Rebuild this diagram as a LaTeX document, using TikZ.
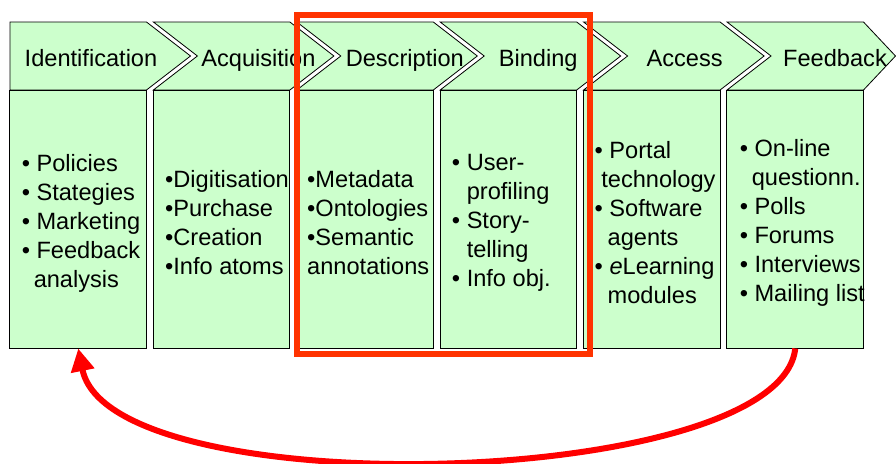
\documentclass[tikz,border=0pt]{standalone}
\usepackage{fontspec}
\setmainfont{Liberation Sans}
\usetikzlibrary{arrows.meta,positioning}
\definecolor{stagegreen}{HTML}{CCFFCC}
\definecolor{boxred}{HTML}{FF3300}
\tikzstyle{chevron} = [draw=black, line width=0.6pt, fill=stagegreen]
\tikzstyle{body} = [draw=black, line width=0.75pt, fill=stagegreen, minimum width=102.4pt, minimum height=193.5pt, inner sep=0pt]
\tikzstyle{stagelabel} = [inner sep=0pt, anchor=base, font=\fontsize{17.7pt}{21.75pt}\selectfont]
\tikzstyle{items} = [inner sep=0pt, anchor=west, align=left, yshift=-3pt, font=\fontsize{17.7pt}{21.75pt}\selectfont]
\tikzstyle{highlight} = [draw=boxred, line width=4.5pt]
\tikzstyle{backflow} = [draw=red, line width=4.5pt, -{Triangle[length=17pt, width=17pt]}]

\begin{document}
\begin{tikzpicture}[x=0.75pt, y=-0.75pt]

		\useasboundingbox (0,0) rectangle (896,464);

		% ====== Chevrons et blocs ======
		\foreach \i/\dep/\notch/\dx/\lab in {0/44/0/81/Identification, 1/44/44/105/Acquisition,
			2/44/44/108/Description, 3/44/44/98/Binding, 4/44/44/101/Access, 5/32/44/108/Feedback}{
			\pgfmathsetmacro\L{10+143.4*\i}
			\pgfmathsetmacro\R{\L+136.5}
			\pgfmathtruncatemacro\n{\i+1}
			\draw[chevron] (\L,22) -- (\R,22) -- ({\R+\dep},56) -- (\R,90) -- (\L,90) -- ({\L+\notch},56) -- cycle;
			\node[stagelabel] (h\n) at ({\L+\dx},66) {\lab};
			\node[body] (b\n) at ({\L+68.25},219) {};
		}

		% ====== Contenus ======
		\node[items] (t1) at ([xshift=9pt]b1.west) {\textbullet\ Policies\\\textbullet\ Stategies\\\textbullet\ Marketing\\\textbullet\ Feedback\\\hspace*{9pt}analysis};
		\node[items] (t2) at ([xshift=9pt]b2.west) {\textbullet Digitisation\\\textbullet Purchase\\\textbullet Creation\\\textbullet Info atoms};
		\node[items] (t3) at ([xshift=8pt]b3.west) {\textbullet Metadata\\\textbullet Ontologies\\\textbullet Semantic\\annotations};
		\node[items] (t4) at ([xshift=9pt]b4.west) {\textbullet\ User-\\\phantom{\textbullet\ }profiling\\\textbullet\ Story-\\\phantom{\textbullet\ }telling\\\textbullet\ Info obj.};
		\node[items] (t5) at ([xshift=8.5pt]b5.west) {\textbullet\ Portal\\\hspace*{5pt}technology\\\textbullet\ Software\\\hspace*{9.75pt}agents\\\textbullet\ \textit{e}Learning\\\hspace*{9.75pt}modules};
		\node[items] (t6) at ([xshift=9.75pt]b6.west) {\textbullet\ On-line\\\hspace*{9pt}questionn.\\\textbullet\ Polls\\\textbullet\ Forums\\\textbullet\ Interviews\\\textbullet\ Mailing list};

		% ====== Cadre Description / Binding ======
		\draw[highlight] (297,15) rectangle (589.5,354);

		% ====== Retour ======
		\draw[backflow] (b6.south) .. controls (780,490) and (110,507) .. (b1.south);

\end{tikzpicture}
\end{document}
